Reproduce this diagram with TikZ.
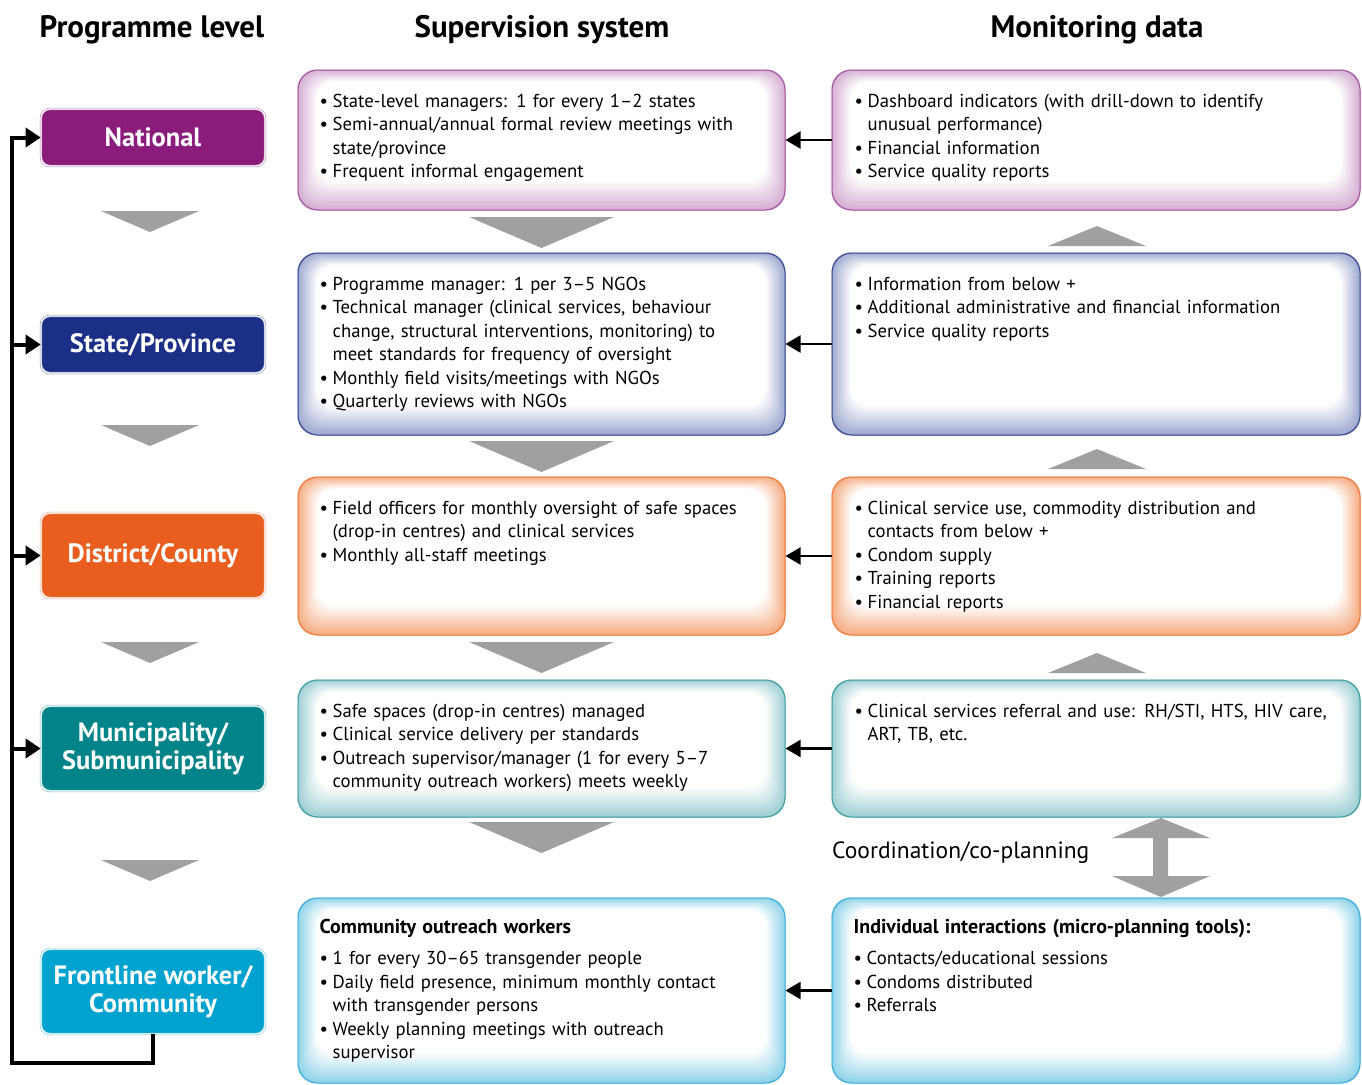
\documentclass[tikz,border=0pt]{standalone}
\usepackage{fontspec}
\setmainfont{PT Sans}
\usetikzlibrary{positioning,arrows.meta,backgrounds,calc}

\definecolor{natc}{HTML}{8B1C7C}
\definecolor{stac}{HTML}{1B2F86}
\definecolor{disc}{HTML}{E95E1E}
\definecolor{munc}{HTML}{00848A}
\definecolor{froc}{HTML}{00A3CF}
\definecolor{natb}{HTML}{A4529F}
\definecolor{stab}{HTML}{34478F}
\definecolor{disb}{HTML}{EC7B3C}
\definecolor{munb}{HTML}{3C9CA2}
\definecolor{frob}{HTML}{3DAFD8}
\definecolor{natg}{HTML}{D4AED3}
\definecolor{stag}{HTML}{9EA8D0}
\definecolor{disg}{HTML}{F5AC82}
\definecolor{mung}{HTML}{9DCFD3}
\definecolor{frog}{HTML}{8ED2E9}
\definecolor{trigray}{HTML}{9FA0A2}

% bullet line, continuation line and bold box heading
\newcommand\bl{\par\noindent\makebox[13pt][l]{\textbullet}}
\newcommand\cl{\par\noindent\hspace*{13pt}}
\newcommand\bhd{\bfseries\fontsize{20}{23.5}\selectfont}
% soft inner colour of the big boxes
\newcommand\glow[2]{%
  \foreach \i in {0,...,12}{%
    \pgfmathtruncatemacro\pc{100*(1-\i/12)}%
    \fill[#2!\pc!white, rounded corners=19pt]
      ($(#1.north west)+(1.6*\i,1.0*\i)$) rectangle ($(#1.south east)+(-1.6*\i,-2.4*\i)$);
  }}

\tikzset{
  lvlbox/.style={fill=#1, draw=#1!55, double=white, double distance=1.2pt, line width=0.6pt,
    rounded corners=9pt, minimum width=224pt, text=white, align=center,
    font=\bfseries\fontsize{26.5}{28}\selectfont},
  supbox/.style={draw=#1, line width=1pt, rounded corners=20pt, minimum width=487pt},
  monbox/.style={draw=#1, line width=1pt, rounded corners=20pt, minimum width=528pt},
  btxt/.style={anchor=north west, inner sep=0pt, text width=500pt, align=left,
    font=\fontsize{18.7}{23.5}\selectfont},
  head/.style={font=\bfseries\fontsize{31}{34}\selectfont},
  link/.style={line width=2.2pt, -{Triangle[length=15pt,width=17pt]}},
  railline/.style={line width=4pt, -{Triangle[length=15pt,width=19pt]}},
  tri/.style={fill=trigray}
}

\begin{document}
\begin{tikzpicture}[x=1pt,y=-1pt]
  \useasboundingbox (0,0) rectangle (1362,1084);

  % column heads
  \node[head] (hlev) at (152,30) {Programme level};
  \node[head] (hsup) at (542,30) {Supervision system};
  \node[head] (hmon) at (1097,30) {Monitoring data};

  % programme levels
  \node[lvlbox=natc, minimum height=57pt] (lvl1) at (153,137.5) {National};
  \node[lvlbox=stac, minimum height=57pt] (lvl2) at (153,344.5) {State/Province};
  \node[lvlbox=disc, minimum height=85pt] (lvl3) at (153,555.5) {District/County};
  \node[lvlbox=munc, minimum height=85pt] (lvl4) at (153,748.5) {Municipality/\\Submunicipality};
  \node[lvlbox=froc, minimum height=85pt] (lvl5) at (153,991.5) {Frontline worker/\\Community};

  % supervision and monitoring boxes
  \node[supbox=natb, minimum height=140pt] (sup1) at (541.5,140) {};
  \node[monbox=natb, minimum height=140pt] (mon1) at (1096,140) {};
  \node[supbox=stab, minimum height=182pt] (sup2) at (541.5,344) {};
  \node[monbox=stab, minimum height=182pt] (mon2) at (1096,344) {};
  \node[supbox=disb, minimum height=158pt] (sup3) at (541.5,556) {};
  \node[monbox=disb, minimum height=158pt] (mon3) at (1096,556) {};
  \node[supbox=munb, minimum height=137pt] (sup4) at (541.5,748.5) {};
  \node[monbox=munb, minimum height=137pt] (mon4) at (1096,748.5) {};
  \node[supbox=frob, minimum height=185pt] (sup5) at (541.5,990.5) {};
  \node[monbox=frob, minimum height=185pt] (mon5) at (1096,990.5) {};

  \begin{scope}[on background layer]
    \glow{sup1}{natg} \glow{mon1}{natg}
    \glow{sup2}{stag} \glow{mon2}{stag}
    \glow{sup3}{disg} \glow{mon3}{disg}
    \glow{sup4}{mung} \glow{mon4}{mung}
    \glow{sup5}{frog} \glow{mon5}{frog}
  \end{scope}

  \node[btxt, below right=14pt and 22pt of sup1.north west] (sup1t)
    {\bl State-level managers: 1 for every 1–2 states
     \bl Semi-annual/annual formal review meetings with \cl state/province
     \bl Frequent informal engagement};
  \node[btxt, below right=14pt and 23pt of mon1.north west] (mon1t)
    {\bl Dashboard indicators (with drill-down to identify \cl unusual performance)
     \bl Financial information
     \bl Service quality reports};
  \node[btxt, below right=14pt and 22pt of sup2.north west] (sup2t)
    {\bl Programme manager: 1 per 3–5 NGOs
     \bl Technical manager (clinical services, behaviour \cl change, structural interventions, monitoring) to
     \cl meet standards for frequency of oversight
     \bl Monthly field visits/meetings with NGOs
     \bl Quarterly reviews with NGOs};
  \node[btxt, below right=14pt and 23pt of mon2.north west] (mon2t)
    {\bl Information from below +
     \bl Additional administrative and financial information
     \bl Service quality reports};
  \node[btxt, below right=14pt and 22pt of sup3.north west] (sup3t)
    {\bl Field officers for monthly oversight of safe spaces \cl (drop-in centres) and clinical services
     \bl Monthly all-staff meetings};
  \node[btxt, below right=14pt and 23pt of mon3.north west] (mon3t)
    {\bl Clinical service use, commodity distribution and \cl contacts from below +
     \bl Condom supply
     \bl Training reports
     \bl Financial reports};
  \node[btxt, below right=14pt and 22pt of sup4.north west] (sup4t)
    {\bl Safe spaces (drop-in centres) managed
     \bl Clinical service delivery per standards
     \bl Outreach supervisor/manager (1 for every 5–7 \cl community outreach workers) meets weekly};
  \node[btxt, below right=14pt and 23pt of mon4.north west] (mon4t)
    {\bl Clinical services referral and use: RH/STI, HTS, HIV care, \cl ART, TB, etc.};
  \node[btxt, below right=22pt and 22pt of sup5.north west] (sup5t)
    {\noindent{\bhd Community outreach workers}\par\vspace{7.5pt}
     \bl 1 for every 30–65 transgender people
     \bl Daily field presence, minimum monthly contact \cl with transgender persons
     \bl Weekly planning meetings with outreach \cl supervisor};
  \node[btxt, below right=22pt and 22pt of mon5.north west] (mon5t)
    {\noindent{\bhd Individual interactions (micro-planning tools):}\par\vspace{7.5pt}
     \bl Contacts/educational sessions
     \bl Condoms distributed
     \bl Referrals};

  % grey step arrows
  \foreach \y in {211,425,642,860}
    \fill[tri] (101,\y) -- ++(98,0) -- ++(-49,21) -- cycle;
  \foreach \y in {217,441,642,822}
    \fill[tri] (469,\y) -- ++(145,0) -- ++(-72.5,31) -- cycle;
  \foreach \y in {246,469,673}
    \fill[tri] (1048,\y) -- ++(98,0) -- ++(-49,-20) -- cycle;
  \fill[tri] (1161,818) -- (1210,838) -- (1168,838) -- (1168,876) -- (1210,876) -- (1161,897)
    -- (1112,876) -- (1153,876) -- (1153,838) -- (1112,838) -- cycle;
  \node[anchor=west, inner sep=0pt, font=\fontsize{23.5}{26}\selectfont] (coord) at (832,853)
    {Coordination/co-planning};

  % monitoring feeds supervision
  \foreach \k in {1,...,5}
    \draw[link] (mon\k.west) -- (sup\k.east);

  % feedback rail
  \coordinate (rail) at (12,1063);
  \draw[railline] (lvl5.south) |- (rail) |- (lvl1.west);
  \foreach \n in {lvl2,lvl3,lvl4}
    \draw[railline] (rail |- \n.west) -- (\n.west);
\end{tikzpicture}
\end{document}
